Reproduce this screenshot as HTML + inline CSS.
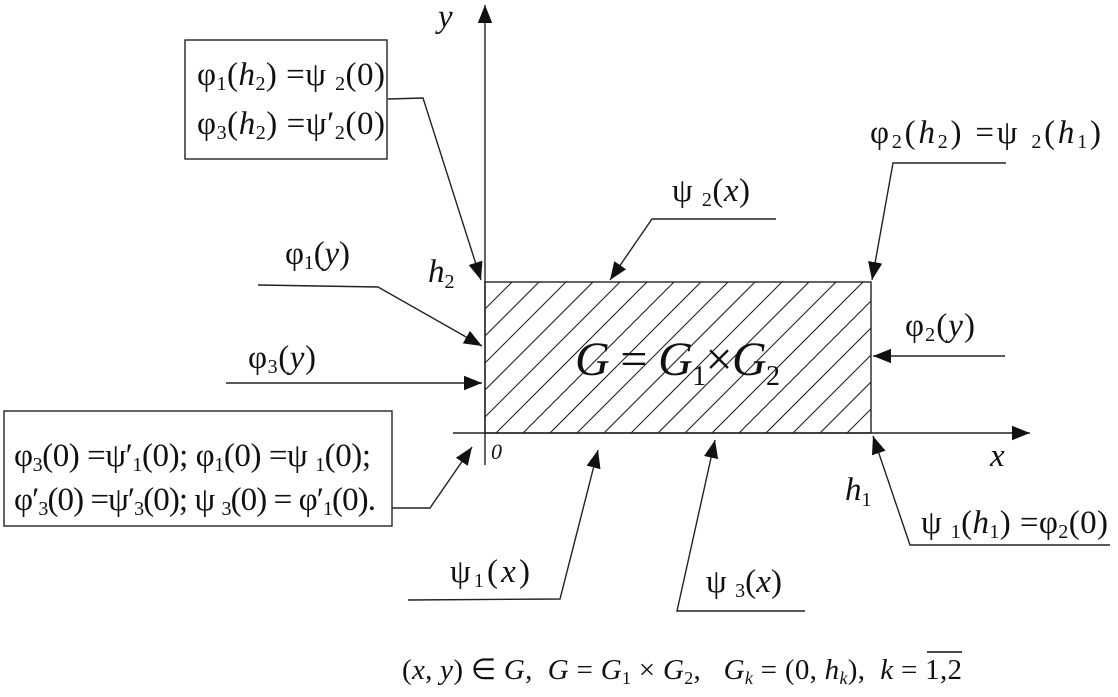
<!DOCTYPE html>
<html><head><meta charset="utf-8"><style>
html,body{margin:0;padding:0;background:#fff;}
svg{display:block;}
text{font-family:"Liberation Serif",serif;fill:#111;white-space:pre;}
.i{font-style:italic;}
</style></head><body>
<svg width="1118" height="697" viewBox="0 0 1118 697" xmlns="http://www.w3.org/2000/svg">
<defs>
<marker id="a" viewBox="0 0 10 10" refX="10" refY="5" markerWidth="18" markerHeight="18" markerUnits="userSpaceOnUse" orient="auto"><path d="M0,1 L10,5 L0,9 z" fill="#111"/></marker>
<clipPath id="c"><rect x="485" y="282" width="386" height="151"/></clipPath>
</defs>
<g stroke="#222" stroke-width="1.4" fill="none">
<g clip-path="url(#c)" stroke-width="1.1">
<path d="M334,433 L485,282 M361,433 L512,282 M388,433 L539,282 M415,433 L566,282 M442,433 L593,282 M469,433 L620,282 M496,433 L647,282 M523,433 L674,282 M550,433 L701,282 M577,433 L728,282 M604,433 L755,282 M631,433 L782,282 M658,433 L809,282 M685,433 L836,282 M712,433 L863,282 M739,433 L890,282 M766,433 L917,282 M793,433 L944,282 M820,433 L971,282 M847,433 L998,282"/>
</g>
<rect x="485" y="282" width="386" height="151"/>
<line x1="485" y1="465" x2="485" y2="5" marker-end="url(#a)"/>
<line x1="453" y1="433" x2="1030" y2="433" marker-end="url(#a)"/>
<rect x="185" y="40" width="202" height="119"/>
<rect x="4" y="411" width="388" height="115"/>
<polyline points="388,99 423,98 481,280" marker-end="url(#a)"/>
<polyline points="258,285 378,287 482,346" marker-end="url(#a)"/>
<polyline points="226,383 482,383" marker-end="url(#a)"/>
<polyline points="392,508 430,508 472,447" marker-end="url(#a)"/>
<polyline points="776,219 652,219 610,280" marker-end="url(#a)"/>
<polyline points="1006,163 893,163 872,280" marker-end="url(#a)"/>
<polyline points="1005,356 873,356" marker-end="url(#a)"/>
<polyline points="1110,545 910,545 873,436" marker-end="url(#a)"/>
<polyline points="408,600 560,599 598,450" marker-end="url(#a)"/>
<polyline points="805,611 677,611 715,440" marker-end="url(#a)"/>
</g>
<g font-size="33">
<text x="197" y="85" textLength="188" lengthAdjust="spacing">φ<tspan font-size="20" dy="5">1</tspan><tspan dy="-5">(</tspan><tspan class="i">h</tspan><tspan font-size="20" dy="5">2</tspan><tspan dy="-5">) =ψ </tspan><tspan font-size="20" dy="5">2</tspan><tspan dy="-5">(0)</tspan></text>
<text x="197" y="134" textLength="188" lengthAdjust="spacing">φ<tspan font-size="20" dy="5">3</tspan><tspan dy="-5">(</tspan><tspan class="i">h</tspan><tspan font-size="20" dy="5">2</tspan><tspan dy="-5">) =ψ′</tspan><tspan font-size="20" dy="5">2</tspan><tspan dy="-5">(0)</tspan></text>
<text x="14" y="466" textLength="357" lengthAdjust="spacing">φ<tspan font-size="20" dy="5">3</tspan><tspan dy="-5">(0) =ψ′</tspan><tspan font-size="20" dy="5">1</tspan><tspan dy="-5">(0); φ</tspan><tspan font-size="20" dy="5">1</tspan><tspan dy="-5">(0) =ψ </tspan><tspan font-size="20" dy="5">1</tspan><tspan dy="-5">(0);</tspan></text>
<text x="14" y="510" textLength="362" lengthAdjust="spacing">φ′<tspan font-size="20" dy="5">3</tspan><tspan dy="-5">(0) =ψ′</tspan><tspan font-size="20" dy="5">3</tspan><tspan dy="-5">(0); ψ </tspan><tspan font-size="20" dy="5">3</tspan><tspan dy="-5">(0) = φ′</tspan><tspan font-size="20" dy="5">1</tspan><tspan dy="-5">(0).</tspan></text>
<text x="870" y="143" textLength="231" lengthAdjust="spacing">φ<tspan font-size="20" dy="5">2</tspan><tspan dy="-5">(</tspan><tspan class="i">h</tspan><tspan font-size="20" dy="5">2</tspan><tspan dy="-5">) =ψ </tspan><tspan font-size="20" dy="5">2</tspan><tspan dy="-5">(</tspan><tspan class="i">h</tspan><tspan font-size="20" dy="5">1</tspan><tspan dy="-5">)</tspan></text>
<text x="672" y="201" textLength="78" lengthAdjust="spacing">ψ <tspan font-size="20" dy="5">2</tspan><tspan dy="-5">(</tspan><tspan class="i">x</tspan>)</text>
<text x="285" y="264" textLength="65" lengthAdjust="spacing">φ<tspan font-size="20" dy="5">1</tspan><tspan dy="-5">(</tspan><tspan class="i">y</tspan>)</text>
<text x="248" y="368" textLength="68" lengthAdjust="spacing">φ<tspan font-size="20" dy="5">3</tspan><tspan dy="-5">(</tspan><tspan class="i">y</tspan>)</text>
<text x="905" y="336" textLength="70" lengthAdjust="spacing">φ<tspan font-size="20" dy="5">2</tspan><tspan dy="-5">(</tspan><tspan class="i">y</tspan>)</text>
<text x="921" y="533" textLength="187" lengthAdjust="spacing">ψ <tspan font-size="20" dy="5">1</tspan><tspan dy="-5">(</tspan><tspan class="i">h</tspan><tspan font-size="20" dy="5">1</tspan><tspan dy="-5">) =φ</tspan><tspan font-size="20" dy="5">2</tspan><tspan dy="-5">(0)</tspan></text>
<text x="450" y="582" textLength="80" lengthAdjust="spacing">ψ<tspan font-size="20" dy="5">1</tspan><tspan dy="-5">(</tspan><tspan class="i">x</tspan>)</text>
<text x="706" y="592" textLength="76" lengthAdjust="spacing">ψ <tspan font-size="20" dy="5">3</tspan><tspan dy="-5">(</tspan><tspan class="i">x</tspan>)</text>
<text x="428" y="282" class="i">h<tspan font-size="20" dy="6" font-style="normal">2</tspan></text>
<text x="845" y="500" class="i">h<tspan font-size="20" dy="6" font-style="normal">1</tspan></text>
<text x="438" y="27" class="i">y</text>
<text x="990" y="466" class="i">x</text>
<text x="491" y="459" class="i" font-size="22" font-family="Liberation Sans">0</text>
<text x="575" y="375" font-size="48" textLength="205" lengthAdjust="spacing"><tspan class="i">G</tspan> = <tspan class="i">G</tspan><tspan font-size="28" dy="10">1</tspan><tspan dy="-10">×</tspan><tspan class="i">G</tspan><tspan font-size="28" dy="10">2</tspan></text>
<text x="402" y="679" font-size="29" textLength="560" lengthAdjust="spacing">(<tspan class="i">x</tspan>, <tspan class="i">y</tspan>) ∈ <tspan class="i">G</tspan>,  <tspan class="i">G</tspan> = <tspan class="i">G</tspan><tspan font-size="18" dy="5">1</tspan><tspan dy="-5"> × </tspan><tspan class="i">G</tspan><tspan font-size="18" dy="5">2</tspan><tspan dy="-5">,   </tspan><tspan class="i">G</tspan><tspan font-size="18" dy="5" class="i">k</tspan><tspan dy="-5"> = (0, </tspan><tspan class="i">h</tspan><tspan font-size="18" dy="5" class="i">k</tspan><tspan dy="-5">),  </tspan><tspan class="i">k</tspan> = 1,2</text>
</g>
<line x1="927" y1="652" x2="962" y2="652" stroke="#111" stroke-width="1.5"/>
</svg>
</body></html>
